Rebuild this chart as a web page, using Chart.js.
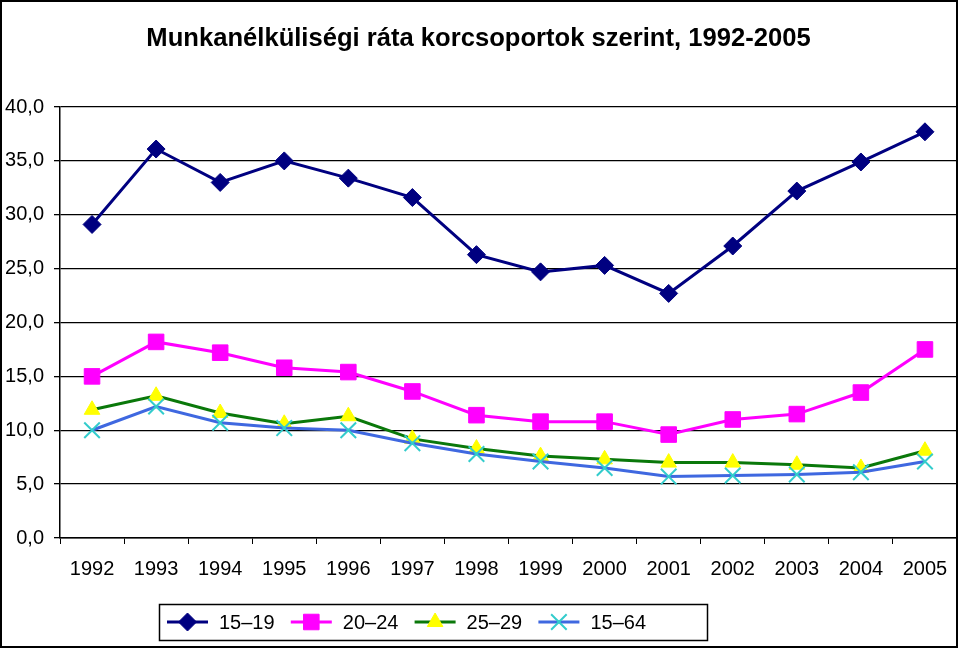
<!DOCTYPE html>
<html>
<head>
<meta charset="utf-8">
<script src="https://cdn.jsdelivr.net/npm/chart.js@4/dist/chart.umd.min.js"></script>
<style>
  html, body { margin: 0; padding: 0; background: #fff; }
  #wrap { width: 960px; height: 651px; position: relative; }
</style>
</head>
<body>
<div id="wrap"><canvas id="c" width="960" height="651"></canvas></div>
<script>
const titleText = "Munkanélküliségi ráta korcsoportok szerint, 1992-2005";
const years = ["1992","1993","1994","1995","1996","1997","1998","1999","2000","2001","2002","2003","2004","2005"];
const seriesNames = ["15–19", "20–24", "25–29", "15–64"];
const age1519 = [29.1, 36.1, 33.0, 35.0, 33.4, 31.6, 26.3, 24.7, 25.3, 22.7, 27.1, 32.2, 34.9, 37.7];
const age2024 = [15.0, 18.2, 17.2, 15.8, 15.4, 13.6, 11.4, 10.8, 10.8, 9.6, 11.0, 11.5, 13.5, 17.5];
const age2529 = [11.9, 13.2, 11.6, 10.6, 11.3, 9.2, 8.3, 7.6, 7.3, 7.0, 7.0, 6.8, 6.5, 8.1];
const age1564 = [10.0, 12.2, 10.7, 10.2, 10.0, 8.8, 7.8, 7.1, 6.5, 5.7, 5.8, 5.9, 6.1, 7.1];

const FONT = "'Liberation Sans', Arial, Helvetica, sans-serif";

const styles = [
  { line: "#000080", fill: "#000080", border: "#000080", pointStyle: "rectRot", r: 9, bw: 1, order: 4 },
  { line: "#FF00FF", fill: "#FF00FF", border: "#FF00FF", pointStyle: "rect", r: 11, bw: 1, order: 3 },
  { line: "#0A780A", fill: "#FFFF00", border: "#FFFF00", pointStyle: "triangle", r: 9, bw: 1, order: 2 },
  { line: "#3F68E0", fill: "#33CCCC", border: "#33CCCC", pointStyle: "crossRot", r: 11, bw: 2, order: 1 }
];
const seriesData = [age1519, age2024, age2529, age1564];

const datasets = seriesData.map((d, i) => ({
  label: seriesNames[i],
  data: d,
  borderColor: styles[i].line,
  backgroundColor: styles[i].fill,
  borderWidth: 3,
  tension: 0,
  pointStyle: styles[i].pointStyle,
  pointRadius: styles[i].r,
  pointHoverRadius: styles[i].r,
  pointBackgroundColor: styles[i].fill,
  pointBorderColor: styles[i].border,
  pointBorderWidth: styles[i].bw,
  order: styles[i].order,
  clip: false
}));

function drawMarker(ctx, st, x, y) {
  ctx.save();
  ctx.fillStyle = st.fill;
  ctx.strokeStyle = st.border;
  ctx.lineWidth = st.bw;
  if (Chart.helpers && Chart.helpers.drawPoint) {
    Chart.helpers.drawPoint(ctx, { pointStyle: st.pointStyle, radius: st.r, rotation: 0, borderWidth: st.bw }, x, y);
  }
  ctx.restore();
}

const framePlugin = {
  id: "frame",
  afterDraw(chart) {
    const ctx = chart.ctx;
    ctx.save();
    ctx.strokeStyle = "#000";
    ctx.lineWidth = 2;
    ctx.strokeRect(1, 1, 956, 646);
    ctx.lineWidth = 1.5;
    ctx.strokeRect(159.5, 604.5, 548, 36);
    const cy = 622;
    ctx.font = "20px " + FONT;
    ctx.textBaseline = "middle";
    ctx.textAlign = "left";
    for (let i = 0; i < seriesNames.length; i++) {
      const x0 = 167 + i * 123.8;
      const st = styles[i];
      ctx.strokeStyle = st.line;
      ctx.lineWidth = 3;
      ctx.beginPath();
      ctx.moveTo(x0, cy);
      ctx.lineTo(x0 + 41, cy);
      ctx.stroke();
      drawMarker(ctx, st, x0 + 20.5, cy);
      ctx.fillStyle = "#000";
      ctx.fillText(seriesNames[i], x0 + 52, cy + 1);
    }
    ctx.restore();
  }
};

new Chart(document.getElementById("c"), {
  type: "line",
  data: { labels: years, datasets },
  plugins: [framePlugin],
  options: {
    responsive: false,
    animation: false,
    devicePixelRatio: 1,
    layout: { autoPadding: false, padding: { left: 0, right: 3, top: 0, bottom: 0 } },
    plugins: {
      legend: { display: false },
      tooltip: { enabled: false },
      title: {
        display: true,
        text: titleText,
        color: "#000",
        font: { family: FONT, size: 25.6, weight: "bold", lineHeight: 1.2 },
        padding: { top: 24, bottom: 52.3 }
      }
    },
    scales: {
      x: {
        offset: true,
        grid: { offset: true, drawOnChartArea: false, drawTicks: true, tickLength: 6, color: "#000", lineWidth: 1 },
        border: { display: true, color: "#000", width: 1.5 },
        ticks: { color: "#000", font: { family: FONT, size: 20 }, padding: 13, maxRotation: 0, autoSkip: false },
        afterFit(scale) { scale.height = 113; scale.paddingLeft = 0; scale.paddingRight = 0; }
      },
      y: {
        min: 0, max: 40,
        ticks: {
          stepSize: 5, color: "#000", font: { family: FONT, size: 20 }, padding: 10,
          callback: (v) => v.toFixed(1).replace(".", ",")
        },
        grid: { color: "#000", lineWidth: 1.3, tickLength: 6, drawTicks: true },
        border: { display: true, color: "#000", width: 1.5 },
        afterFit(scale) { scale.width = 60; scale.paddingTop = 0; scale.paddingBottom = 0; }
      }
    }
  }
});
</script>
</body>
</html>
